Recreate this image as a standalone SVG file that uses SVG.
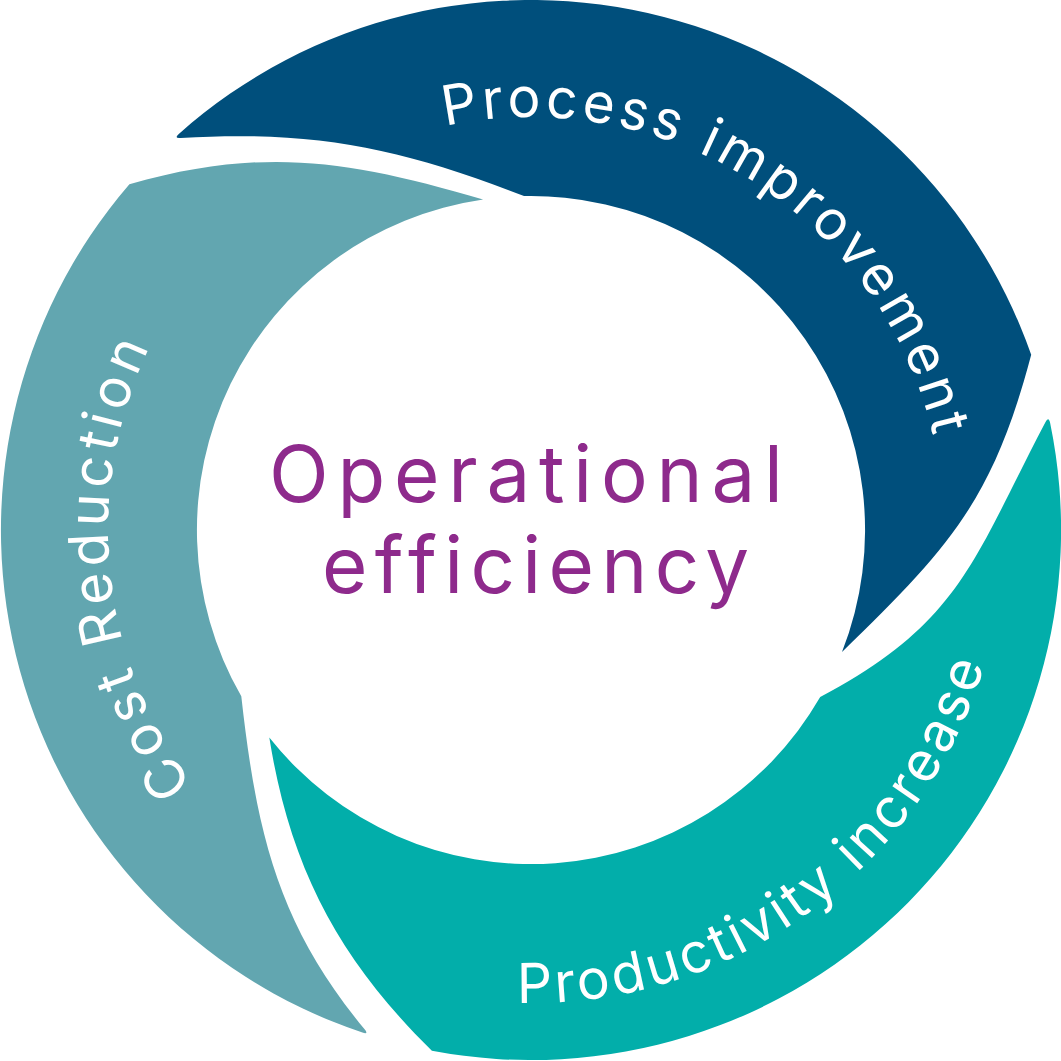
<svg xmlns="http://www.w3.org/2000/svg" xmlns:xlink="http://www.w3.org/1999/xlink" width="1061" height="1061" viewBox="0 0 1061 1061">
  <style>
    .seg-blue { fill: #004f7c; }
    .seg-teal { fill: #02aeaa; }
    .seg-light { fill: #62a6b0; }
    .label { fill: #ffffff; font-family: "Inter", "Liberation Sans", sans-serif; font-size: 55px; font-weight: 400; }
    .center { fill: #8e2a8c; font-family: "Inter", "Liberation Sans", sans-serif; font-size: 78px; font-weight: 400; text-anchor: middle; }
  </style>
  <defs>
    <path id="arc-top" d="M 445.1 126 A 413 413 0 0 1 933.4 437.1"/>
    <path id="arc-left" d="M 193.2 784.6 A 423 423 0 0 1 150.8 344.6"/>
    <path id="arc-bottom" d="M 517 1002.8 A 473 473 0 0 0 984.5 664.3"/>
  </defs>
  <rect width="1061" height="1061" fill="#ffffff"/>

  <g id="process-improvement">
    <path class="seg-blue" d="M 178.8 133.9 A 530 530 0 0 1 1031.2 354.8 C 992.7 500.3 949.9 547.2 842 652 A 334 334 0 0 0 524 196.1 C 400 148 314.4 130 180.6 138 Q 173.6 138.6 178.8 133.9 Z"/>
    <text class="label"><textPath xlink:href="#arc-top" href="#arc-top" textLength="640" lengthAdjust="spacing">Process improvement</textPath></text>
  </g>

  <g id="productivity-increase">
    <path class="seg-teal" d="M 1050.1 422.8 A 530 530 0 0 1 431.9 1050.7 C 338.4 959 290 867 269.3 737.6 A 334 334 0 0 0 820.2 697.1 C 960.8 622.3 972.7 560.8 1045.4 422.2 Q 1048.6 416 1050.1 422.8 Z"/>
    <text class="label"><textPath xlink:href="#arc-bottom" href="#arc-bottom" textLength="620" lengthAdjust="spacing">Productivity increase</textPath></text>
  </g>

  <g id="cost-reduction">
    <path class="seg-light" d="M 362.4 1032.6 A 530 530 0 0 1 129.4 184.2 C 262.4 146.6 348.6 159.8 483.1 199.4 A 334 334 0 0 0 241.3 696.3 C 256.8 835.6 279 925.6 364.6 1029.3 Q 369.1 1034.7 362.4 1032.6 Z"/>
    <text class="label"><textPath xlink:href="#arc-left" href="#arc-left" textLength="462" lengthAdjust="spacing">Cost Reduction</textPath></text>
  </g>

  <g id="operational-efficiency">
    <text class="center" x="526" y="502" textLength="514" lengthAdjust="spacing">Operational</text>
    <text class="center" x="535.5" y="593" textLength="427" lengthAdjust="spacing">efficiency</text>
  </g>
</svg>
